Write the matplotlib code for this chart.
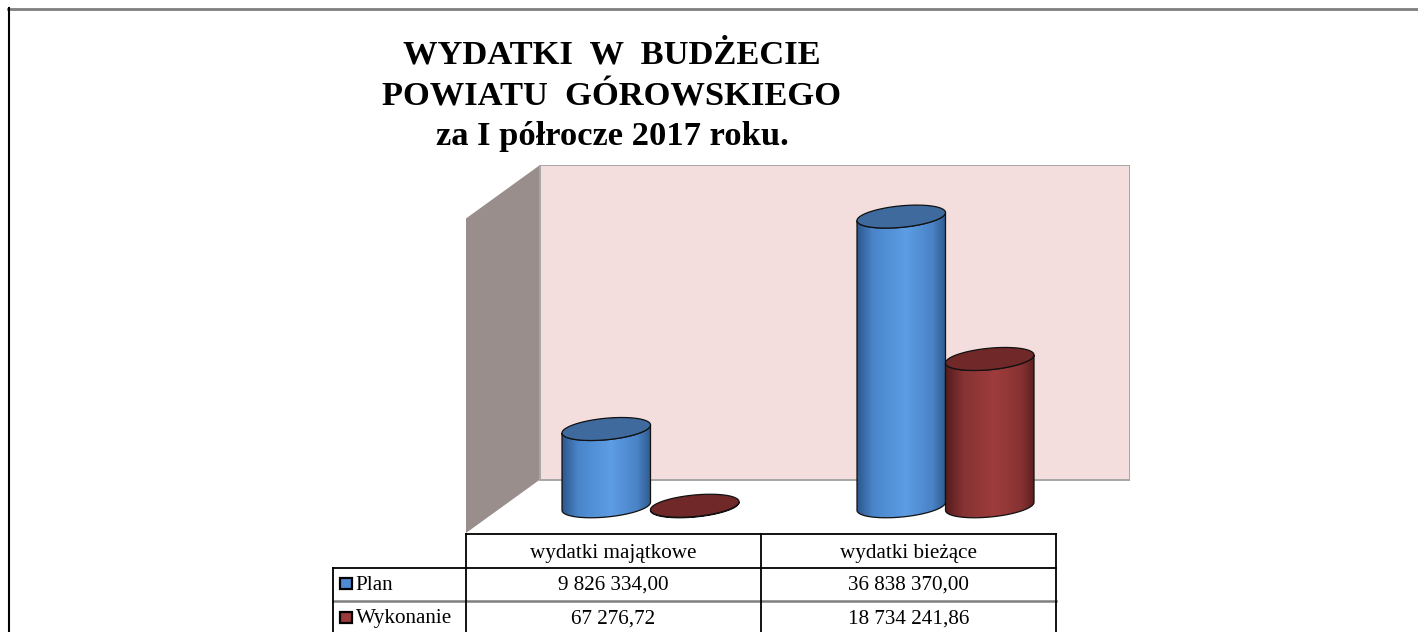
import numpy as np
import matplotlib
matplotlib.use('Agg')
import matplotlib.pyplot as plt
from matplotlib.patches import Polygon, Rectangle
from matplotlib.lines import Line2D
from matplotlib.colors import LinearSegmentedColormap

# data
categories = ['wydatki majątkowe', 'wydatki bieżące']
series = ['Plan', 'Wykonanie']
plan = [9826334.00, 36838370.00]
wykonanie = [67276.72, 18734241.86]
title_lines = ['WYDATKI  W  BUDŻECIE', 'POWIATU  GÓROWSKIEGO', 'za I półrocze 2017 roku.']

W, H = 1418, 632
plt.rcParams['font.family'] = ['Liberation Serif', 'DejaVu Serif']
fig = plt.figure(figsize=(W / 100, H / 100), dpi=100)


def box(x0, y0, x1, y1):
    # pixel box (y down) -> figure fraction rect
    return [x0 / W, 1 - y1 / H, (x1 - x0) / W, (y1 - y0) / H]


YMAX = 40.0      # axis max, millions
D = 0.1254       # depth offset in category units
DY = 3.4         # depth offset in value units
BW = 0.3         # bar width
B = 1.37         # ellipse half height
SH = 3.4         # ellipse tilt

blue_cm = LinearSegmentedColormap.from_list('b', [(0, '#2d578a'), (0.18, '#4a85ca'), (0.55, '#5d9de4'),
                                                  (0.85, '#4a83c6'), (1, '#2f5a8c')])
red_cm = LinearSegmentedColormap.from_list('r', [(0, '#571c1c'), (0.2, '#873333'), (0.55, '#9e3c3c'),
                                                 (0.85, '#873232'), (1, '#5a1e1e')])

ax = fig.add_axes(box(466, 165, 1130, 533))
ax.axis('off')

# walls and floor
ax.add_patch(Polygon([(-0.5 - D, -DY), (-0.5 + D, DY), (1.5 + D, DY), (1.5 - D, -DY)],
                     closed=True, facecolor='white', edgecolor='none', zorder=0))
side = Polygon([(-0.5 - D, -DY), (-0.5 + D, DY), (-0.5 + D, YMAX + DY), (-0.5 - D, YMAX - DY)],
               closed=True, facecolor='#998e8b', edgecolor='none', zorder=1)
ax.add_patch(side)
ax.add_patch(Rectangle((-0.5 + D, DY), 2, YMAX, facecolor='#f4dddd', edgecolor='#a6a6a6', lw=1.4, zorder=1))


def ell(cx, cy, t):
    a = BW / 2
    return cx + a * np.cos(t), cy + B * np.sin(t) + SH * a * np.cos(t)


def cylinder(cx, h, cmap, topcol, zo):
    lower = np.linspace(np.pi, 2 * np.pi, 120)
    xb, yb = ell(cx, 0, lower)
    xt, yt = ell(cx, h, lower[::-1])
    body = Polygon(np.column_stack([np.r_[xb, xt], np.r_[yb, yt]]), closed=True,
                   facecolor='none', edgecolor='#111111', lw=0.9, zorder=zo + 1)
    grad = np.linspace(0, 1, 256)[None, :]
    im = ax.imshow(grad, cmap=cmap, extent=(cx - BW / 2, cx + BW / 2, yb.min(), yt.max()),
                   aspect='auto', zorder=zo, interpolation='bilinear')
    ax.add_patch(body)
    im.set_clip_path(body)
    t = np.linspace(0, 2 * np.pi, 240)
    xe, ye = ell(cx, h, t)
    ax.add_patch(Polygon(np.column_stack([xe, ye]), closed=True, facecolor=topcol,
                         edgecolor='#111111', lw=0.9, zorder=zo + 2))


zo = 2
for i in range(len(categories)):
    cylinder(i - BW / 2, plan[i] / 1e6, blue_cm, '#3e6a9d', zo)
    zo += 3
    cylinder(i + BW / 2, wykonanie[i] / 1e6, red_cm, '#702828', zo)
    zo += 3

ax.set_xlim(-0.5 - D, 1.5 + D)
ax.set_ylim(-DY, YMAX + DY)

# data table
ROW = 33.6
tab = fig.add_axes(box(466, 534, 1130, 632))
tab.axis('off')
tab.set_xlim(-0.5 - D, 1.5 + D)
tab.set_ylim(98 / ROW, 0)
xl = -0.5 - D - 0.45
xr = len(categories) - 0.5 - D
lk = dict(color='black', lw=1.3, clip_on=False)
tab.plot([-0.5 - D, xr], [0, 0], **lk)
tab.plot([xl, xr], [1, 1], **lk)
tab.plot([xl, xr], [2, 2], color='#7f7f7f', lw=1.8, clip_on=False)
for xv in [-0.5 - D + k for k in range(len(categories) + 1)]:
    tab.plot([xv, xv], [0, 3], **lk)
tab.plot([xl, xl], [1, 3], **lk)

fmt = lambda v: f'{v:,.2f}'.replace(',', ' ').replace('.', ',')
tk = dict(ha='center', va='center', fontsize=15.2, color='black')
for i, c in enumerate(categories):
    tab.text(i - D, 0.57, c, **tk)
    tab.text(i - D, 1.52, fmt(plan[i]), **tk)
    tab.text(i - D, 2.52, fmt(wykonanie[i]), **tk)

for r, (name, col) in enumerate(zip(series, ['#4f8ad3', '#9a3a3a'])):
    tab.add_patch(Rectangle((xl + 0.024, r + 1.32), 0.04, 0.33, facecolor=col,
                            edgecolor='black', lw=1.6, clip_on=False))
    tab.text(xl + 0.076, r + 1.52, name, ha='left', va='center', fontsize=15.2, clip_on=False)

# title
for ln, base in zip(title_lines, [64, 105, 145]):
    fig.text(612 / W, 1 - base / H, ln, ha='center', va='baseline', fontsize=24.8, fontweight='bold')

# outer frame
fig.add_artist(Line2D([8 / W, 1], [1 - 8.5 / H] * 2, color='#7f7f7f', lw=2, transform=fig.transFigure))
fig.add_artist(Line2D([8.5 / W] * 2, [0, 1 - 8 / H], color='black', lw=1.5, transform=fig.transFigure))

fig.savefig('out.png', dpi=100)
